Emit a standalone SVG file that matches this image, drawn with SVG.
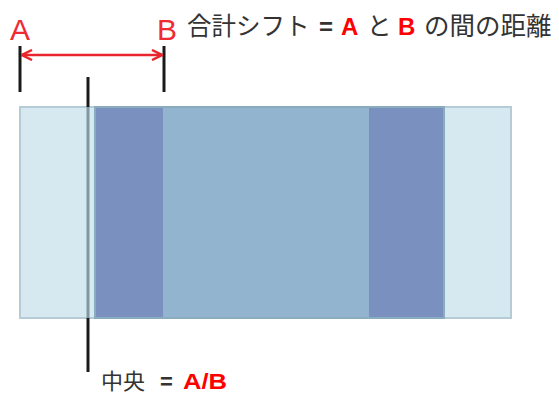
<svg xmlns="http://www.w3.org/2000/svg" width="559" height="394" viewBox="0 0 559 394">
<style>
.tick{stroke:#1a1a1a;stroke-width:3;fill:none}
.lbl{font-family:"Liberation Sans","Noto Sans CJK JP",sans-serif;fill:#333333}
.eq{font-family:"Liberation Sans",sans-serif;fill:#333333;font-weight:bold}
.red{font-family:"Liberation Sans",sans-serif;fill:#ff0000;font-weight:bold}
.ab{font-family:"Liberation Sans",sans-serif;fill:#ee2b33;font-size:30px}
</style>
<defs>
<marker id="ah" viewBox="0 0 12 12" refX="11" refY="6" markerWidth="12" markerHeight="12" markerUnits="userSpaceOnUse" orient="auto-start-reverse">
<path d="M1,1 L11,6 L1,11" fill="none" stroke="#e8242c" stroke-width="2.5"/>
</marker>
</defs>
<g id="outer"><rect x="20" y="107" width="491" height="211" fill="#d7e9f0" stroke="#b5cbd6" stroke-width="2"/></g>
<g id="middle"><rect x="95" y="107" width="349" height="211" fill="#93b4cf" stroke="#8aacbf" stroke-width="2"/></g>
<g id="left-dark"><rect x="96" y="108" width="67" height="209" fill="#7a91c0"/></g>
<g id="right-dark"><rect x="369" y="108" width="74" height="209" fill="#7a91c0"/></g>
<g id="connectors">
<line class="tick" x1="20" y1="46" x2="20" y2="92"/>
<line class="tick" x1="164" y1="46" x2="164" y2="92"/>
<line class="tick" x1="88" y1="77" x2="88" y2="107"/>
<line x1="88" y1="107" x2="88" y2="318" stroke="#7f98a2" stroke-width="3"/>
<line class="tick" x1="88" y1="318" x2="88" y2="372"/>
<line x1="22" y1="55" x2="162" y2="55" stroke="#e8242c" stroke-width="2.5" marker-start="url(#ah)" marker-end="url(#ah)"/>
</g>
<g id="labels">
<text class="ab" x="20" y="40" text-anchor="middle">A</text>
<text class="ab" x="167" y="40" text-anchor="middle">B</text>
<text y="35"><tspan class="lbl" x="187" font-size="24.5">合計シフト </tspan><tspan class="eq" x="319" font-size="24">= </tspan><tspan class="red" x="341" font-size="24">A </tspan><tspan class="lbl" x="367" font-size="24.5">と </tspan><tspan class="red" x="398" font-size="24">B </tspan><tspan class="lbl" x="424" font-size="25.5">の間の距離</tspan></text>
<text y="389"><tspan class="lbl" x="101" font-size="22">中央 </tspan><tspan class="eq" x="160" font-size="22">= </tspan><tspan class="red" x="183" font-size="22" textLength="44" lengthAdjust="spacingAndGlyphs">A/B</tspan></text>
</g>
</svg>
